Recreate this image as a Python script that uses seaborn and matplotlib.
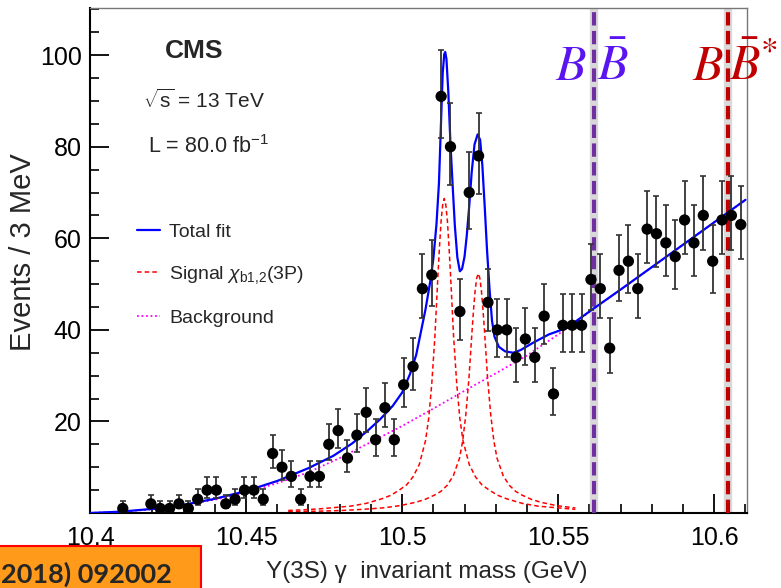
import numpy as np
import pandas as pd
import matplotlib
matplotlib.use("Agg")
import matplotlib.pyplot as plt
import seaborn as sns
from matplotlib.lines import Line2D
from matplotlib.patches import Rectangle
from matplotlib.ticker import MultipleLocator, FixedLocator

# ---------------- data ----------------
bin_index = [3, 6, 7, 8, 9, 10, 11, 12, 13, 14, 15, 16, 17, 18, 19, 20, 21, 22, 23, 24,
             25, 26, 27, 28, 29, 30, 31, 32, 33, 34, 35, 36, 37, 38, 39, 40, 41, 42, 43, 44,
             45, 46, 47, 48, 49, 50, 51, 52, 53, 54, 55, 56, 57, 58, 59, 60, 61, 62, 63, 64,
             65, 66, 67, 68, 69]
counts = [1, 2, 1, 1, 2, 1, 3, 5, 5, 2, 3, 5, 5, 3, 13, 10, 8, 3, 8, 8,
          15, 18, 12, 17, 22, 16, 23, 16, 28, 32, 49, 52, 91, 80, 44, 70, 78, 46, 40, 40,
          34, 38, 34, 43, 26, 41, 41, 41, 51, 49, 36, 53, 55, 49, 62, 61, 59, 56, 64, 59,
          65, 55, 64, 65, 63]
bin_start = 10.4
bin_width = 0.003

total_x = [10.400, 10.410, 10.420, 10.430, 10.440, 10.450, 10.460, 10.470, 10.478, 10.484,
           10.489, 10.493, 10.497, 10.500, 10.5025, 10.5045, 10.506, 10.5075, 10.509, 10.510,
           10.511, 10.5118, 10.5125, 10.513, 10.5135, 10.5138, 10.5142, 10.5148, 10.5155, 10.5162,
           10.5169, 10.5177, 10.5185, 10.5192, 10.5200, 10.5207, 10.5215, 10.5223, 10.5232, 10.5242,
           10.5250, 10.5257, 10.5265, 10.5272, 10.5280, 10.5288, 10.5296, 10.531, 10.533, 10.5356,
           10.538, 10.542, 10.547, 10.5527, 10.5602, 10.570, 10.580, 10.590, 10.600, 10.610]
total_y = [0.0, 0.3, 0.9, 1.8, 3.1, 4.8, 7.0, 9.8, 12.5, 15.2,
           18.0, 20.5, 23.4, 26.3, 30.3, 34.5, 39.5, 44.5, 50.5, 55.5,
           63.0, 72.0, 86.0, 96.0, 100.2, 100.7, 99.2, 92.0, 80.5, 71.4,
           62.7, 55.8, 52.8, 53.3, 56.0, 60.5, 67.0, 74.5, 80.5, 82.7,
           81.5, 76.0, 66.5, 57.5, 49.0, 42.0, 38.5, 36.3, 35.3, 35.0,
           35.6, 37.2, 39.0, 40.4, 44.1, 48.8, 53.7, 58.6, 63.5, 68.4]

bkg_x = [10.400, 10.410, 10.420, 10.430, 10.440, 10.450, 10.460, 10.470, 10.480, 10.490,
         10.500, 10.510, 10.520, 10.530, 10.540, 10.550, 10.560, 10.570, 10.580, 10.590,
         10.600, 10.610]
bkg_y = [0.0, 0.3, 0.8, 1.7, 2.9, 4.5, 6.5, 8.9, 12.0, 15.5,
         19.0, 22.8, 26.7, 30.5, 34.4, 39.0, 43.9, 48.8, 53.7, 58.6,
         63.5, 68.4]

sig1_x = [10.4635, 10.4685, 10.4735, 10.4785, 10.4835, 10.4885, 10.4935, 10.4965, 10.4995, 10.5015,
          10.5035, 10.5055, 10.5075, 10.5085, 10.5095, 10.5105, 10.5115, 10.5120, 10.5125, 10.5130,
          10.5135, 10.5140, 10.5145, 10.5150, 10.5155, 10.5165, 10.5175, 10.5185, 10.5195, 10.5215,
          10.5235, 10.5255, 10.5275, 10.5305, 10.5335, 10.5385, 10.5435, 10.5485, 10.5555]
sig1_y = [0.55, 0.7, 0.9, 1.2, 1.5, 2.1, 3.1, 3.9, 5.2, 6.2,
          7.9, 10.6, 15.8, 20.6, 28.2, 38.5, 52.2, 58.4, 63.9, 67.3,
          68.7, 67.3, 63.9, 58.4, 52.2, 38.5, 28.2, 20.6, 15.8, 10.6,
          7.9, 6.2, 5.2, 3.9, 3.1, 2.1, 1.5, 1.2, 0.8]

sig2_x = [10.4635, 10.4694, 10.4744, 10.4794, 10.4844, 10.4894, 10.4944, 10.4994, 10.5044, 10.5074,
          10.5104, 10.5124, 10.5144, 10.5164, 10.5184, 10.5194, 10.5204, 10.5214, 10.5224, 10.5229,
          10.5234, 10.5239, 10.5244, 10.5249, 10.5254, 10.5259, 10.5264, 10.5274, 10.5284, 10.5294,
          10.5304, 10.5324, 10.5344, 10.5364, 10.5384, 10.5414, 10.5444, 10.5494, 10.5555]
sig2_y = [0.3, 0.35, 0.42, 0.52, 0.68, 0.89, 1.15, 1.62, 2.35, 2.98,
          3.92, 4.71, 6.01, 8.11, 12.0, 15.7, 21.4, 29.3, 39.7, 44.5,
          48.6, 51.3, 52.3, 51.3, 48.6, 44.5, 39.7, 29.3, 21.4, 15.7,
          12.0, 8.11, 6.01, 4.71, 3.92, 2.98, 2.35, 1.62, 1.1]

bb_threshold = 10.5615
bbstar_threshold = 10.6044

x_major_ticks = [10.4, 10.45, 10.5, 10.55, 10.6]
x_tick_labels = ["10.4", "10.45", "10.5", "10.55", "10.6"]
y_major_ticks = [20, 40, 60, 80, 100]
y_tick_labels = ["20", "40", "60", "80", "100"]

# ---------------- style ----------------
sns.set_theme(style="ticks")
plt.rcParams["font.family"] = ["Liberation Sans", "DejaVu Sans"]
plt.rcParams["mathtext.fontset"] = "custom"
plt.rcParams["mathtext.rm"] = "Liberation Sans"
plt.rcParams["mathtext.it"] = "Liberation Sans:italic"
plt.rcParams["mathtext.bf"] = "Liberation Sans:bold"
plt.rcParams["mathtext.sf"] = "Liberation Sans"

W, H = 781, 588
fig = plt.figure(figsize=(W / 100, H / 100), dpi=100)
fig.patch.set_facecolor("white")

def fx(px):
    return px / W

def fy(py):
    return 1 - py / H

ax = fig.add_axes([fx(90), fy(513), (747 - 90) / W, (513 - 8) / H])
ax.set_facecolor("white")
ax.set_zorder(1)

centers = np.round(bin_start + bin_width * (np.array(bin_index) + 0.5), 5)
n = np.array(counts, dtype=float)
err_lo = np.sqrt(n + 0.25) - 0.5
err_hi = np.sqrt(n + 0.25) + 0.5
df = pd.DataFrame({"mass": centers, "events": n})

# background
sns.lineplot(x=bkg_x, y=bkg_y, ax=ax, color="#ff00ff", lw=1.3,
             linestyle=(0, (1, 1.5)), estimator=None, sort=False, legend=False, zorder=2)
# signals
sns.lineplot(x=sig1_x, y=sig1_y, ax=ax, color="#ff0000", lw=1.1,
             linestyle=(0, (3, 2)), estimator=None, sort=False, legend=False, zorder=2)
sns.lineplot(x=sig2_x, y=sig2_y, ax=ax, color="#ff0000", lw=1.1,
             linestyle=(0, (3, 2)), estimator=None, sort=False, legend=False, zorder=2)

# threshold lines
for xv, col in [(bb_threshold, "#7030a0"), (bbstar_threshold, "#c00000")]:
    ax.axvline(xv, color="#d9d9d9", lw=6, zorder=2.5, solid_capstyle="butt")
    ax.axvline(xv, color=col, lw=3, linestyle=(0, (3.2, 1.3)), zorder=2.6)

# total fit
sns.lineplot(x=total_x, y=total_y, ax=ax, color="#0000ff", lw=1.6,
             estimator=None, sort=False, legend=False, zorder=3)

# data points
ax.errorbar(df["mass"], df["events"], yerr=[err_lo, err_hi], fmt="none",
            ecolor="#333333", elinewidth=1.3, capsize=2, capthick=1.2, zorder=4)
sns.scatterplot(data=df, x="mass", y="events", ax=ax, color="black", s=66,
                edgecolor="none", zorder=5, legend=False)

# axes
ax.set_xlim(10.4, 10.6105)
ax.set_ylim(0, 110.3)
ax.xaxis.set_major_locator(FixedLocator(x_major_ticks))
ax.set_xticklabels(x_tick_labels)
ax.xaxis.set_minor_locator(MultipleLocator(0.01))
ax.yaxis.set_major_locator(FixedLocator(y_major_ticks))
ax.set_yticklabels(y_tick_labels)
ax.yaxis.set_minor_locator(MultipleLocator(5))
ax.tick_params(which="major", direction="in", length=14, width=1.3, labelsize=18,
               color="black", labelcolor="black", top=False, right=False)
ax.tick_params(axis="x", which="major", pad=9.5)
ax.tick_params(axis="y", which="major", pad=6)
ax.tick_params(which="minor", direction="in", length=6.5, width=1.2, color="black",
               top=False, right=False)
ax.set_xlabel("")
ax.set_ylabel("")
for s in ["left", "bottom"]:
    ax.spines[s].set_color("black")
    ax.spines[s].set_linewidth(1.5)
for s in ["top", "right"]:
    ax.spines[s].set_color("#777777")
    ax.spines[s].set_linewidth(1.0)

# axis titles
fig.text(fx(427), fy(572), "Υ(3S) γ  invariant mass (GeV)", ha="center", va="center", fontsize=17.5)
fig.text(fx(23), fy(252), "Events / 3 MeV", ha="center", va="center", rotation=90, fontsize=21)

# CMS texts
fig.text(fx(194), fy(51), "CMS", ha="center", va="center", fontsize=19, fontweight="bold")
fig.text(fx(143), fy(100), r"$\sqrt{\mathrm{s}}$ = 13 TeV", ha="left", va="center", fontsize=15)
fig.text(fx(148), fy(147), r"L = 80.0 fb$^{\mathrm{-1}}$", ha="left", va="center", fontsize=15.5)

# legend
handles = [Line2D([], [], color="#0000ff", lw=1.6),
           Line2D([], [], color="#ff0000", lw=1.1, linestyle=(0, (3, 2))),
           Line2D([], [], color="#ff00ff", lw=1.3, linestyle=(0, (1, 1.5)))]
labels = ["Total fit", r"Signal $\chi_{\mathrm{b1{,}2}}$(3P)", "Background"]
fig.legend(handles, labels, loc="upper left", bbox_to_anchor=(fx(137), fy(223)),
           frameon=False, fontsize=14, handlelength=1.2, handletextpad=0.45,
           labelspacing=1.2, borderpad=0, borderaxespad=0)

# threshold labels
fig.text(fx(571), fy(80), r"$B$", ha="center", va="baseline", fontsize=36,
         color="#5a14f0", math_fontfamily="stix")
fig.text(fx(613), fy(80), r"$\bar{B}$", ha="center", va="baseline", fontsize=36,
         color="#5a14f0", math_fontfamily="stix")
fig.text(fx(708), fy(80), r"$B$", ha="center", va="baseline", fontsize=36,
         color="#c00000", math_fontfamily="stix")
fig.text(fx(729), fy(80), r"$\bar{B}^{*}$", ha="left", va="baseline", fontsize=36,
         color="#c00000", math_fontfamily="stix")

# reference box
fig.patches.append(Rectangle((-0.02, -0.05), fx(201) + 0.02, (588 - 546) / H + 0.05,
                             transform=fig.transFigure, facecolor="#ff9a1a",
                             edgecolor="#ff0000", lw=1.5, zorder=-1))
fig.text(fx(1), fy(583), "2018) 092002", ha="left", va="baseline",
         fontsize=19.5, fontweight="bold", family=["Lato", "DejaVu Sans"])

fig.savefig("out.png", dpi=100)
